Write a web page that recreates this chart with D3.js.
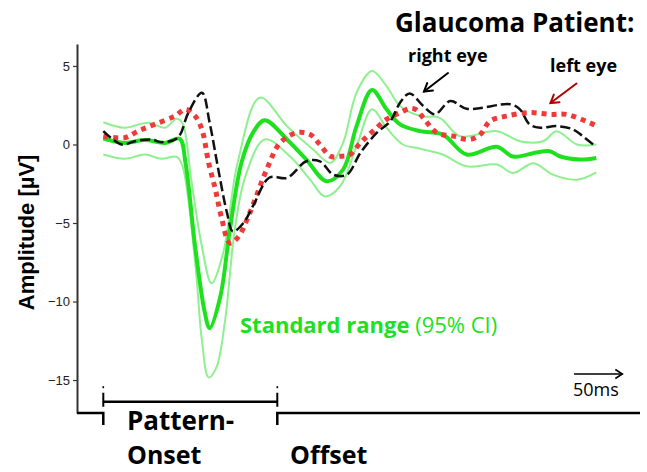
<!DOCTYPE html>
<html>
<head>
<meta charset="utf-8">
<script src="https://cdn.jsdelivr.net/npm/d3@7"></script>
<style>
  html, body { margin: 0; padding: 0; background: #fff; }
  svg { display: block; }
</style>
</head>
<body>
<svg id="chart" width="647" height="472"></svg>
<script>
// Pattern-onset VEP traces: time in ms after pattern onset, amplitude in µV.
// Normal group mean and its 95% confidence bounds
const normalMean = [
  [0,0.38],[22,0.1],[43,0.28],[64,0.1],[79,0.37],[85,-1.15],[95,-6.5],[105,-10.7],
  [110,-11.7],[121,-9.7],[131,-5.4],[143,-1.15],[155,0.77],[167,1.55],[190,0.32],
  [210,-0.96],[231,-2.34],[248,-1.6],[262,1.17],[278,3.47],[293,2.24],[307,1.28],
  [328,0.85],[351,0.64],[376,-0.64],[407,-0.15],[424,-0.77],[448,-0.51],[462,-0.43],
  [472,-0.75],[493,-0.96],[510,-0.86]
];
const normalUpper = [
  [0,1.42],[22,1.07],[46,1.39],[64,1.07],[76,1.64],[82,1.34],[91,-2.24],[102,-6.5],
  [112,-8.84],[124,-6.9],[139,-1.15],[162,2.98],[190,1.17],[217,-0.32],[235,-1.17],
  [248,0.1],[262,3.3],[278,4.68],[293,3.72],[307,2.45],[328,1.81],[348,1.7],[369,0.53],
  [407,0.85],[431,0.21],[455,0.21],[469,0.85],[490,0],[510,0]
];
const normalLower = [
  [0,-0.64],[22,-0.91],[43,-0.64],[60,-0.91],[76,-0.79],[82,-1.39],[95,-7.5],[102,-12.46],
  [109,-14.84],[117,-14.2],[126,-11.2],[136,-5.43],[147,-2.03],[167,0.32],[193,-0.75],
  [214,-2.24],[229,-3.3],[245,-2.66],[262,-0.11],[278,2.24],[293,1.07],[310,0],
  [328,-0.27],[351,-0.64],[376,-1.39],[407,-1.28],[424,-1.81],[445,-1.2],[465,-1.92],
  [490,-2.24],[510,-1.77]
];
// Patient traces
const rightEye = [
  [0,0.85],[19,0],[33,0.21],[50,0.32],[60,0.15],[77,0.43],[88,2.03],[102,3.3],[110,1.39],
  [119,-1.6],[128,-4.36],[134,-5.54],[145,-5.0],[155,-3.9],[172,-2.1],[190,-2.13],
  [210,-1.07],[224,-1.07],[238,-1.92],[252,-1.92],[266,-0.53],[283,0.75],[297,1.49],
  [307,2.66],[317,3.25],[331,2.45],[343,1.92],[359,2.77],[376,2.28],[421,2.56],
  [431,2.24],[441,1.28],[452,1.07],[469,1.17],[486,0.96],[496,0.53],[509,-0.11]
];
const leftEye = [
  [0,0.53],[22,0.43],[36,0.85],[53,1.28],[74,1.81],[85,2.24],[95,1.81],[102,0.96],
  [109,-1.17],[116,-2.88],[122,-4.58],[131,-6.28],[140,-5.86],[150,-4.58],[155,-3.83],
  [169,-1.6],[183,0.11],[200,0.75],[214,0.64],[224,0],[235,-0.75],[245,-0.75],
  [255,-0.65],[266,0.11],[279,0.85],[293,1.6],[307,2.03],[318,2.3],[324,2.2],[331,1.7],
  [345,0.75],[362,0.53],[379,0.32],[390,0.64],[400,1.49],[417,1.81],[441,2.03],
  [462,1.92],[479,1.92],[503,1.39],[510,1.2]
];
const yTicks = [5, 0, -5, -10, -15];
const stimulusOffset = 180;   // ms
const scaleBarMs = 50;

const svg = d3.select("#chart");

const x = d3.scaleLinear().domain([0, stimulusOffset]).range([103.3, 277.3]);
const y = d3.scaleLinear().domain([-17.1, 6.4]).range([413, 44]);
const axisX = 77;

const GREEN = "#1fe01f";
const GREEN_LIGHT = "#8ef08e";
const RED = "#f03a3a";
const DARK_RED = "#b00000";

// y axis
const yAxis = svg.append("g")
  .attr("transform", `translate(${axisX},0)`)
  .call(d3.axisLeft(y).tickValues(yTicks).tickSize(4).tickSizeOuter(0).tickPadding(3)
          .tickFormat(d3.format("d")));
yAxis.select(".domain").attr("stroke", "#333").attr("stroke-width", 2);
yAxis.selectAll(".tick line").attr("stroke", "#333").attr("stroke-width", 1.2);
yAxis.selectAll(".tick text")
  .attr("font-family", "Liberation Sans, Arial, sans-serif")
  .attr("font-size", 13).attr("fill", "#222");

svg.append("text")
  .attr("transform", `translate(34,${y(-5.6)}) rotate(-90)`)
  .attr("text-anchor", "middle")
  .attr("font-family", "Liberation Sans, Arial, sans-serif")
  .attr("font-weight", "bold").attr("font-size", 22)
  .attr("fill", "#000")
  .text("Amplitude [µV]");

// traces
const line = d3.line()
  .x(d => x(d[0])).y(d => y(d[1]))
  .curve(d3.curveCatmullRom.alpha(0.5));

const plot = svg.append("g").attr("fill", "none");
plot.append("path").datum(normalUpper).attr("d", line)
  .attr("stroke", GREEN_LIGHT).attr("stroke-width", 2);
plot.append("path").datum(normalLower).attr("d", line)
  .attr("stroke", GREEN_LIGHT).attr("stroke-width", 2);
plot.append("path").datum(normalMean).attr("d", line)
  .attr("stroke", GREEN).attr("stroke-width", 4);
plot.append("path").datum(leftEye).attr("d", line)
  .attr("stroke", RED).attr("stroke-width", 5).attr("stroke-dasharray", "5,5");
plot.append("path").datum(rightEye).attr("d", line)
  .attr("stroke", "#111").attr("stroke-width", 2.5).attr("stroke-dasharray", "10,4");

// time line with stimulus bracket
const yBase = y.range()[0];
const tl = svg.append("g").attr("fill", "none").attr("stroke", "#000").attr("stroke-width", 2.5);
tl.append("path").attr("d", `M${axisX},${yBase}H${x(0)}V${yBase + 12}`);
tl.append("path").attr("d", `M${x(stimulusOffset)},${yBase + 12}V${yBase}H640`);
const yBr = 401.7;
tl.append("path").attr("d", `M${x(0)},${yBr}H${x(stimulusOffset)}`);
tl.append("path").attr("d", `M${x(0)},${yBr - 9}V${yBr + 5}M${x(stimulusOffset)},${yBr - 9}V${yBr + 5}`)
  .attr("stroke-width", 2);
[0, stimulusOffset].forEach(t => {
  svg.append("rect").attr("x", x(t) - 0.8).attr("y", yBr - 15.5).attr("width", 1.6).attr("height", 2)
    .attr("fill", "#000");
});

// 50 ms scale arrow
const sx0 = 574, sx1 = sx0 + (x(scaleBarMs) - x(0)), sy = 374;
const sb = svg.append("g").attr("fill", "none").attr("stroke", "#000").attr("stroke-width", 1.6);
sb.append("path").attr("d", `M${sx0},${sy}H${sx1}`);
sb.append("path").attr("d", `M${sx1 - 7},${sy - 4.5}L${sx1},${sy}L${sx1 - 7},${sy + 4.5}`);
svg.append("text").attr("x", sx0 - 1).attr("y", 396)
  .attr("font-family", "Open Sans, sans-serif").attr("font-size", 18).attr("fill", "#000")
  .text(`${scaleBarMs}ms`);

// labels
const font = "Open Sans, sans-serif";
function label(txt, lx, ly, size, color, weight) {
  return svg.append("text").attr("x", lx).attr("y", ly)
    .attr("font-family", font).attr("font-size", size)
    .attr("font-weight", weight || "bold").attr("fill", color || "#000").text(txt);
}
label("Glaucoma Patient:", 395, 32, 26);
label("right eye", 408, 62, 18);
label("left eye", 550, 72, 18);
label("Pattern-", 127, 430, 26);
label("Onset", 127, 464, 25);
label("Offset", 290, 464, 25);

const sr = svg.append("text").attr("x", 240).attr("y", 333)
  .attr("font-family", font).attr("font-size", 22).attr("fill", GREEN);
sr.append("tspan").attr("font-weight", "bold").text("Standard range ");
sr.append("tspan").attr("font-weight", "normal").text("(95% CI)");

// pointer arrows
function pointer(x1, y1, x2, y2, color) {
  const a = Math.atan2(y2 - y1, x2 - x1), h = 9, w = 0.55;
  const g = svg.append("g").attr("fill", "none").attr("stroke", color)
    .attr("stroke-width", 2).attr("stroke-linecap", "round");
  g.append("path").attr("d", `M${x1},${y1}L${x2},${y2}`);
  g.append("path").attr("d",
    `M${x2 - h * Math.cos(a - w)},${y2 - h * Math.sin(a - w)}L${x2},${y2}` +
    `L${x2 - h * Math.cos(a + w)},${y2 - h * Math.sin(a + w)}`);
}
pointer(448, 73, 424, 91.5, "#000");
pointer(576.5, 83.5, 550.5, 103, DARK_RED);
</script>
</body>
</html>
